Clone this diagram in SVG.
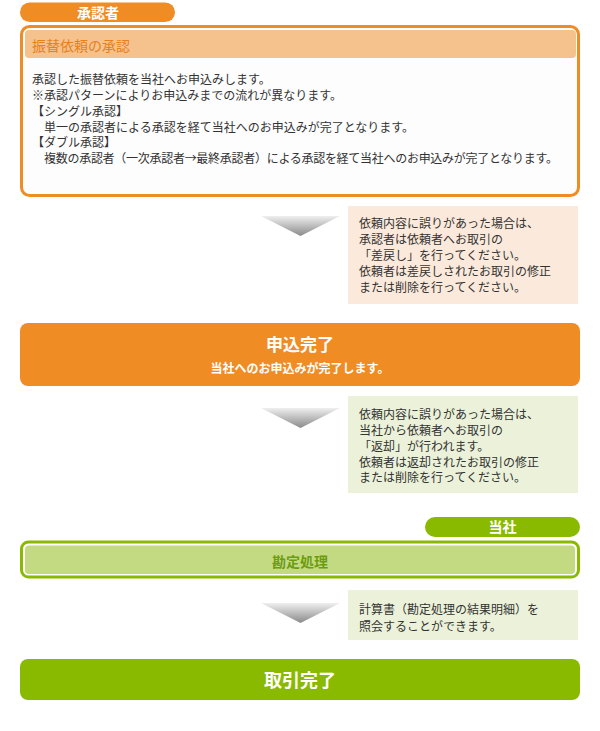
<svg xmlns="http://www.w3.org/2000/svg" width="600" height="731" viewBox="0 0 600 731">
<defs>
<linearGradient id="arrowGrad" x1="0" y1="0" x2="0" y2="1">
<stop offset="0" stop-color="#efefef"/>
<stop offset="1" stop-color="#8a8a8a"/>
</linearGradient>
<style>
text{font-family:"Noto Sans CJK JP","Noto Sans",sans-serif;}
.body{font-size:12px;fill:#333333;}
.pill{font-size:14px;font-weight:bold;fill:#ffffff;text-anchor:middle;}
.orange{fill:#f08c24;}
.green{fill:#8aba00;}
.arrow{fill:url(#arrowGrad);}
.white{fill:#ffffff;}
</style>
</defs>
<rect width="600" height="731" fill="#ffffff"/>

<g id="label-approver">
<rect class="orange" x="20" y="2.5" width="155" height="19.5" rx="9.75"/>
<text class="pill" x="98" y="18">承認者</text>
</g>

<g id="node-approval">
<rect x="21.5" y="26.5" width="557" height="169" rx="8" fill="#fdfdfd" stroke="#f08c24" stroke-width="3"/>
<rect x="25" y="30" width="551" height="28" rx="4" fill="#f5c28d"/>
<text x="32" y="50.5" font-size="14" fill="#e8801a">振替依頼の承認</text>
<text class="body" x="32" y="84">承認した振替依頼を当社へお申込みします。</text>
<text class="body" x="32" y="100">※承認パターンによりお申込みまでの流れが異なります。</text>
<text class="body" x="32" y="115.5">【シングル承認】</text>
<text class="body" x="44" y="131.5">単一の承認者による承認を経て当社へのお申込みが完了となります。</text>
<text class="body" x="32" y="147">【ダブル承認】</text>
<text class="body" x="44" y="163" textLength="514" lengthAdjust="spacing">複数の承認者（一次承認者→最終承認者）による承認を経て当社へのお申込みが完了となります。</text>
</g>

<g id="connectors">
<polygon class="arrow" points="261,216 340,216 300.5,236"/>
<polygon class="arrow" points="261,408 340,408 300.5,428"/>
<polygon class="arrow" points="261,603 340,603 300.5,623"/>
</g>

<g id="note-remand">
<rect x="348" y="206" width="230" height="98" fill="#fbeadb"/>
<text class="body" x="359" y="227.5">依頼内容に誤りがあった場合は、</text>
<text class="body" x="359" y="243.5">承認者は依頼者へお取引の</text>
<text class="body" x="359" y="259.5">「差戻し」を行ってください。</text>
<text class="body" x="359" y="275.5">依頼者は差戻しされたお取引の修正</text>
<text class="body" x="359" y="291.5">または削除を行ってください。</text>
</g>

<g id="node-application-complete">
<rect class="orange" x="20" y="323" width="560" height="63" rx="8"/>
<text x="300" y="350.5" font-size="17" font-weight="bold" fill="#ffffff" text-anchor="middle">申込完了</text>
<text x="300" y="372.5" font-size="12" font-weight="bold" fill="#ffffff" text-anchor="middle">当社へのお申込みが完了します。</text>
</g>

<g id="note-return">
<rect x="348" y="396" width="230" height="97" fill="#ebf2d9"/>
<text class="body" x="359" y="419">依頼内容に誤りがあった場合は、</text>
<text class="body" x="359" y="435">当社から依頼者へお取引の</text>
<text class="body" x="359" y="450.5">「返却」が行われます。</text>
<text class="body" x="359" y="466.5">依頼者は返却されたお取引の修正</text>
<text class="body" x="359" y="482">または削除を行ってください。</text>
</g>

<g id="label-company">
<rect class="green" x="425" y="517" width="155" height="20" rx="10"/>
<text class="pill" x="502.5" y="532">当社</text>
</g>

<g id="node-settlement">
<rect x="21.5" y="542" width="557" height="35" rx="7" fill="#ffffff" stroke="#8aba00" stroke-width="3"/>
<rect x="25" y="545.5" width="550" height="28.5" rx="4" fill="#c4da82"/>
<text x="300" y="567" font-size="14" font-weight="bold" fill="#6c9c10" text-anchor="middle">勘定処理</text>
</g>

<g id="note-statement">
<rect x="348" y="590" width="230" height="50" fill="#ebf2d9"/>
<text class="body" x="359" y="613.5">計算書（勘定処理の結果明細）を</text>
<text class="body" x="359" y="630.5">照会することができます。</text>
</g>

<g id="node-transaction-complete">
<rect class="green" x="20" y="659" width="560" height="41" rx="8"/>
<text x="300" y="686.5" font-size="18" font-weight="bold" fill="#ffffff" text-anchor="middle">取引完了</text>
</g>
</svg>
